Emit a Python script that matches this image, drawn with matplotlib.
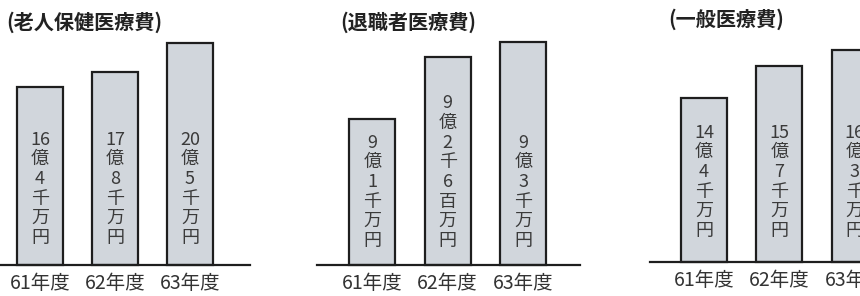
import matplotlib.pyplot as plt
from matplotlib.transforms import blended_transform_factory

plt.rcParams["font.family"] = ["Noto Sans CJK JP", "DejaVu Sans"]

years = ["61年度", "62年度", "63年度"]

# amounts in 億円
elderly_values = [16.4, 17.8, 20.5]
retiree_values = [9.1, 9.26, 9.3]
general_values = [14.4, 15.7, 16.3]

elderly_labels = ["16\n億\n4\n千\n万\n円", "17\n億\n8\n千\n万\n円", "20\n億\n5\n千\n万\n円"]
retiree_labels = ["9\n億\n1\n千\n万\n円", "9\n億\n2\n千\n6\n百\n万\n円", "9\n億\n3\n千\n万\n円"]
general_labels = ["14\n億\n4\n千\n万\n円", "15\n億\n7\n千\n万\n円", "16\n億\n3\n千\n万\n円"]

titles = ["(老人保健医療費)", "(退職者医療費)", "(一般医療費)"]

W, H = 860, 296
fig = plt.figure(figsize=(W / 100, H / 100), dpi=100)
fig.patch.set_facecolor("white")

# left px, right px, baseline px, xlim, ylim, text gap px, title x, title y
panels = [
    (0, 250, 265, (-0.533, 2.8), (0, 22.6), 18, 6, 22, elderly_values, elderly_labels),
    (317, 580, 265, (-0.73, 2.75), (8.72, 9.356), 15, 340, 22, retiree_values, retiree_labels),
    (650, 860, 262, (-0.715, 2.07), (7.93, 17.5), 22, 668, 19, general_values, general_labels),
]

top_px = 20
for k, (left, right, base, xlim, ylim, gap, tx, ty, values, labels) in enumerate(panels):
    ax = fig.add_axes([left / W, (H - base) / H, (right - left) / W, (base - top_px) / H])
    ax.set_xlim(*xlim)
    ax.set_ylim(*ylim)
    x = range(len(values))
    heights = [v - ylim[0] for v in values]
    ax.bar(x, heights, bottom=ylim[0], width=0.61, color="#d1d6dc",
           edgecolor="#1e1e1e", linewidth=1.6, clip_on=False, zorder=2)
    for s in ["top", "left", "right"]:
        ax.spines[s].set_visible(False)
    ax.spines["bottom"].set_linewidth(1.6)
    ax.spines["bottom"].set_color("#1e1e1e")
    ax.spines["bottom"].set_zorder(3)
    ax.set_yticks([])
    ax.set_xticks(list(x))
    ax.set_xticklabels(years, fontsize=14, color="#333333")
    ax.tick_params(axis="x", length=0, pad=6)
    ax.patch.set_alpha(0)
    trans = blended_transform_factory(ax.transData, ax.transAxes)
    for i, lab in enumerate(labels):
        ax.annotate(lab, xy=(i, 0), xycoords=trans, xytext=(0, gap * 0.72),
                    textcoords="offset points", ha="center", va="bottom",
                    fontsize=13, linespacing=1.12, color="#3a3a3a", zorder=4)
    fig.text(tx / W, 1 - ty / H, titles[k], fontsize=14.5, fontweight="bold",
             ha="left", va="center", color="#222222")

fig.savefig("out.png", dpi=100)
